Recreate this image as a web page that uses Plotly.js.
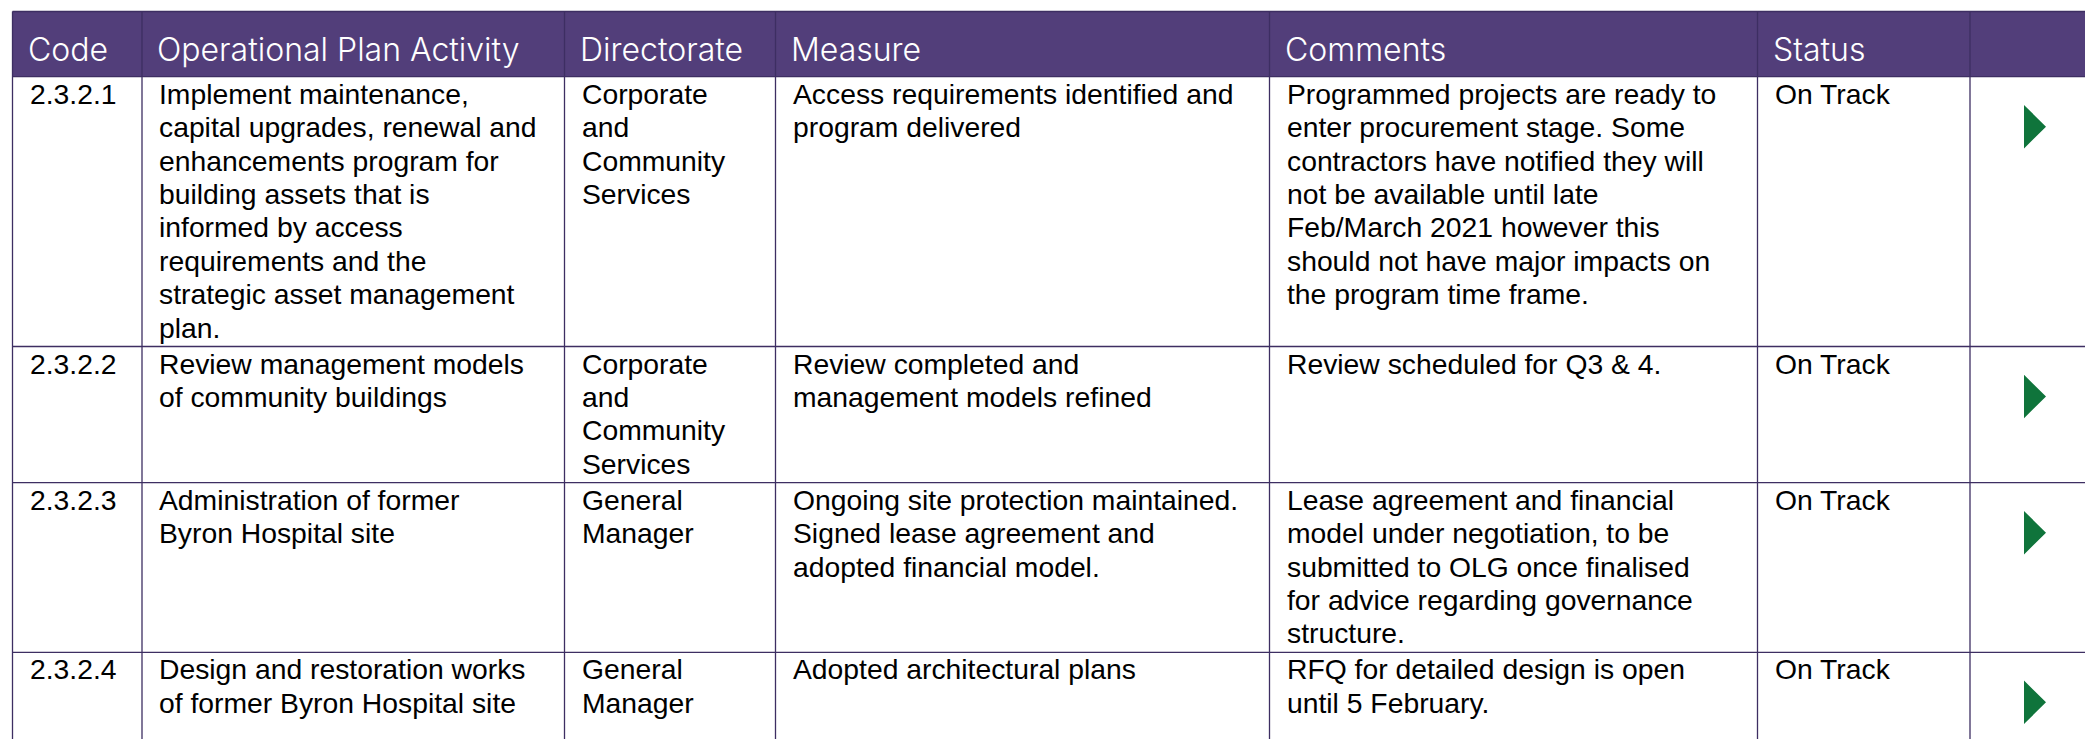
<!DOCTYPE html>
<html><head><meta charset="utf-8">
<script src="https://cdn.plot.ly/plotly-3.0.1.min.js"></script>
<style>html,body{margin:0;padding:0;background:#fff;overflow:hidden}#chart{width:2085px;height:739px;}</style>
</head><body><div id="chart"></div>
<script>
// ---------- data ----------
const headers = ["Code", "Operational Plan Activity", "Directorate", "Measure", "Comments", "Status", ""];
const codes = ["2.3.2.1", "2.3.2.2", "2.3.2.3", "2.3.2.4"];
const activities = [
  ["Implement maintenance,", "capital upgrades, renewal and", "enhancements program for", "building assets that is", "informed by access", "requirements and the", "strategic asset management", "plan."],
  ["Review management models", "of community buildings"],
  ["Administration of former", "Byron Hospital site"],
  ["Design and restoration works", "of former Byron Hospital site"]
];
const directorates = [
  ["Corporate", "and", "Community", "Services"],
  ["Corporate", "and", "Community", "Services"],
  ["General", "Manager"],
  ["General", "Manager"]
];
const measures = [
  ["Access requirements identified and", "program delivered"],
  ["Review completed and", "management models refined"],
  ["Ongoing site protection maintained.", "Signed lease agreement and", "adopted financial model."],
  ["Adopted architectural plans"]
];
const comments = [
  ["Programmed projects are ready to", "enter procurement stage. Some", "contractors have notified they will", "not be available until late", "Feb/March 2021 however this", "should not have major impacts on", "the program time frame."],
  ["Review scheduled for Q3 & 4."],
  ["Lease agreement and financial", "model under negotiation, to be", "submitted to OLG once finalised", "for advice regarding governance", "structure."],
  ["RFQ for detailed design is open", "until 5 February."]
];
const statuses = ["On Track", "On Track", "On Track", "On Track"];
const trendIcons = ["right", "right", "right", "right"];

// ---------- layout constants ----------
const W = 2085, H = 739;
const colX = [12.5, 142, 564.5, 775.5, 1269.5, 1757.5, 1970, W];
const headTop = 11.5, headBot = 76.7;
const lineH = 33.4, rowPad = 2.6, pad = 15, baseOff = 27;
const bodySize = 28.3, headSize = 32;
const purple = "#523e7a", gridCol = "#3d2e62", green = "#0f743b";

const rowCells = codes.map((c, i) => [[c], activities[i], directorates[i], measures[i], comments[i], [statuses[i]]]);
const rowTops = [];
let yy = headBot;
rowCells.forEach(cells => {
  rowTops.push(yy);
  const n = Math.max(...cells.map(c => c.length));
  yy += n * lineH + rowPad;
});

const shapes = [];
// header background
shapes.push({type: "rect", xref: "x", yref: "y", x0: colX[0], x1: W + 5, y0: headTop, y1: headBot, fillcolor: purple, line: {width: 0}, layer: "below"});
// horizontal lines
const hLines = [headTop, headBot].concat(rowTops.slice(1));
hLines.forEach(y => shapes.push({type: "line", xref: "x", yref: "y", x0: colX[0], x1: W + 5, y0: y, y1: y, line: {color: gridCol, width: 1.3}}));
// vertical lines
colX.slice(0, -1).forEach(x => shapes.push({type: "line", xref: "x", yref: "y", x0: x, x1: x, y0: headTop, y1: H + 10, line: {color: gridCol, width: 1.3}}));

const annotations = [];
const BODY_SHIFT = 0.3465 * bodySize, HEAD_SHIFT = 0.364 * headSize;
headers.forEach((h, j) => {
  if (!h) return;
  annotations.push({xref: "x", yref: "y", x: colX[j] + pad - 2, y: 61 - HEAD_SHIFT, text: h, showarrow: false,
    xanchor: "left", yanchor: "middle", font: {family: "Inter", weight: 300, size: headSize, color: "#ffffff"}});
});
rowCells.forEach((cells, i) => {
  cells.forEach((lines, j) => {
    lines.forEach((ln, k) => {
      annotations.push({xref: "x", yref: "y", x: colX[j] + pad, y: rowTops[i] + baseOff + k * lineH - BODY_SHIFT,
        text: ln, showarrow: false, xanchor: "left", yanchor: "middle",
        font: {family: "Liberation Sans, Arial, sans-serif", size: bodySize, color: "#000000"}});
    });
  });
});

// status arrows as a filled trace
const ax = [], ay = [];
trendIcons.forEach((t, i) => {
  const top = rowTops[i];
  const xl = colX[6] + 54, xr = colX[6] + 76;
  ax.push(xl, xr, xl, xl, null);
  ay.push(top + 28.3, top + 50, top + 71.7, top + 28.3, null);
});
const data = [{type: "scatter", mode: "lines", x: ax, y: ay, fill: "toself", fillcolor: green,
  line: {width: 0, color: green}, hoverinfo: "skip", showlegend: false}];

const layout = {
  width: W, height: H, margin: {l: 0, r: 0, t: 0, b: 0},
  paper_bgcolor: "#ffffff", plot_bgcolor: "#ffffff", showlegend: false,
  xaxis: {range: [0, W], visible: false, fixedrange: true},
  yaxis: {range: [H, 0], visible: false, fixedrange: true},
  shapes: shapes, annotations: annotations
};
Plotly.newPlot("chart", data, layout, {staticPlot: true, displayModeBar: false});
</script></body></html>
